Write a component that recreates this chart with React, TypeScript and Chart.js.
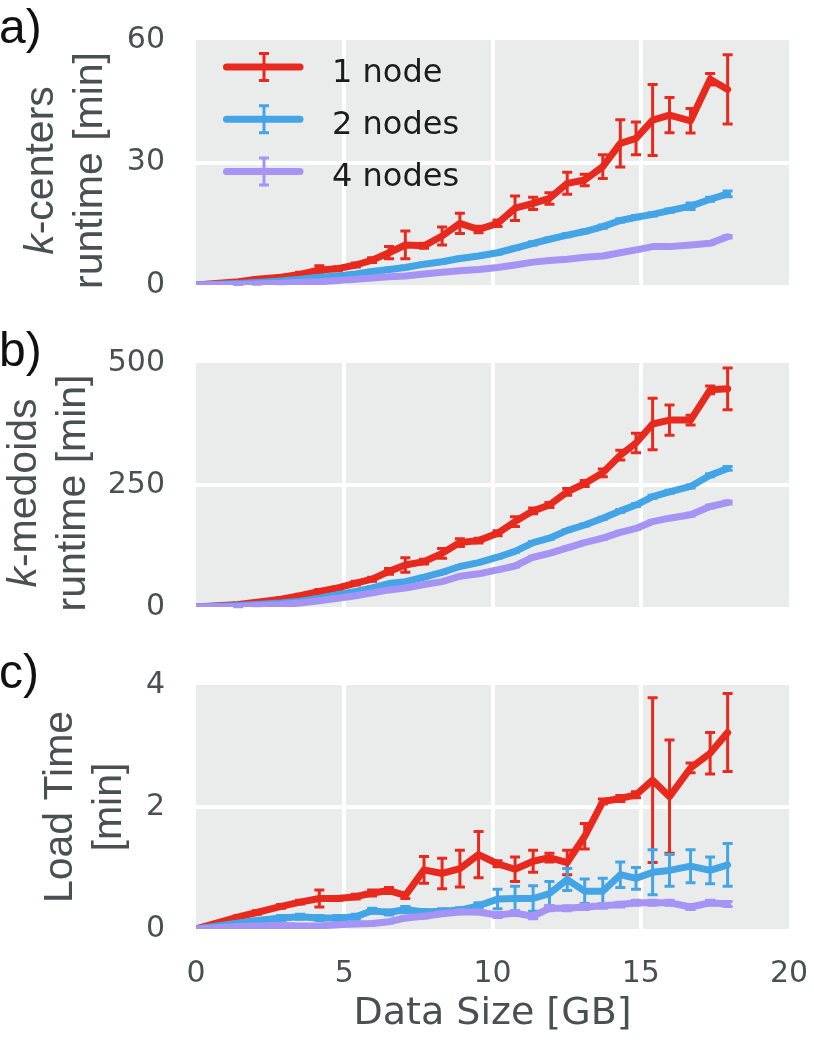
import React, { useEffect, useRef } from 'react';
import { Chart, registerables } from 'chart.js';

Chart.register(...registerables);

const W = 814;
const H = 1048;
const PLOT_LEFT = 196;
const PLOT_RIGHT = 789;

// ---------- data ----------
const dataSizeGB = [0, 1.43, 2.05, 2.87, 3.51, 4.16, 4.78, 5.39, 5.94, 6.51, 7.06, 7.69, 8.3, 8.9, 9.53, 10.17, 10.76, 11.37, 11.92, 12.52, 13.11, 13.72, 14.31, 14.84, 15.4, 15.97, 16.68, 17.34, 17.93];
const seriesLabels = ['1 node', '2 nodes', '4 nodes'];
const seriesColors = ['#e8291e', '#43a4e6', '#a594f4'];
const xTicks = [0, 5, 10, 15, 20];

// a) k-centers runtime [min]
const kCentersTicks = [0, 30, 60];
const kCenters1 = [0, 0.8, 1.4, 1.9, 2.6, 3.7, 4.0, 4.9, 6.1, 7.9, 9.8, 9.6, 12.0, 15.1, 13.6, 15.1, 18.8, 20.0, 21.2, 24.9, 25.7, 29.0, 34.7, 35.9, 40.4, 41.6, 40.2, 50.4, 47.9];
const kCenters1Err = [0, 0.2, 0.3, 0.3, 0.5, 1.0, 0.5, 0.5, 0.6, 1.5, 3.4, 0.6, 2.2, 2.5, 0.8, 0.8, 3.0, 1.5, 1.4, 2.7, 1.4, 2.9, 5.8, 4.0, 8.7, 4.3, 3.0, 1.4, 8.5];
const kCenters2 = [0, 0.35, 0.6, 1.0, 1.4, 1.9, 2.2, 2.7, 3.3, 3.8, 4.3, 5.1, 5.7, 6.5, 7.1, 7.9, 9.0, 10.2, 11.2, 12.2, 13.1, 14.3, 15.8, 16.6, 17.3, 18.2, 19.3, 21.0, 22.3];
const kCenters2Err = [0, 0.1, 0.1, 0.2, 0.2, 0.3, 0.3, 0.3, 0.3, 0.3, 0.3, 0.3, 0.3, 0.3, 0.3, 0.3, 0.3, 0.4, 0.3, 0.4, 0.3, 0.4, 0.4, 0.4, 0.4, 0.4, 0.8, 0.5, 0.7];
const kCenters4 = [0, 0.15, 0.25, 0.4, 0.65, 0.8, 1.1, 1.4, 1.7, 2.0, 2.2, 2.7, 3.1, 3.5, 3.8, 4.3, 4.9, 5.6, 6.0, 6.3, 6.8, 7.1, 7.9, 8.6, 9.4, 9.4, 9.8, 10.2, 11.8];
const kCenters4Err = [0, 0.05, 0.05, 0.1, 0.1, 0.1, 0.1, 0.1, 0.1, 0.2, 0.1, 0.2, 0.2, 0.2, 0.2, 0.2, 0.2, 0.2, 0.2, 0.2, 0.2, 0.2, 0.2, 0.3, 0.2, 0.3, 0.3, 0.3, 0.3];

// b) k-medoids runtime [min]
const kMedoidsTicks = [0, 250, 500];
const kMedoids1 = [0, 5, 10, 16, 23, 32, 39, 49, 57, 73, 86, 93, 110, 132, 136, 151, 175, 197, 209, 236, 253, 275, 311, 336, 375, 383, 383, 445, 447];
const kMedoids1Err = [0, 2, 2, 3, 3, 4, 3, 4, 4, 6, 15, 5, 10, 8, 5, 5, 10, 6, 5, 7, 6, 8, 10, 20, 53, 31, 10, 8, 43];
const kMedoids2 = [0, 3, 5, 8, 12, 18, 25, 32, 39, 48, 52, 61, 71, 83, 91, 102, 114, 132, 141, 157, 168, 182, 197, 209, 226, 236, 247, 270, 284];
const kMedoids2Err = [0, 0.5, 0.5, 1, 1, 2, 2, 2, 2, 2, 2, 2, 2, 2, 2, 2, 2, 2, 2, 2, 2, 2, 3, 3, 3, 3, 3, 3, 4];
const kMedoids4 = [0, 1, 3, 5, 8, 13, 18, 23, 29, 35, 39, 46, 52, 63, 68, 76, 84, 102, 110, 121, 132, 141, 153, 161, 175, 182, 189, 206, 214];
const kMedoids4Err = [0, 0.5, 0.5, 1, 1, 1, 1, 1, 2, 2, 2, 2, 2, 2, 2, 2, 2, 2, 2, 2, 2, 2, 2, 2, 2, 2, 3, 3, 3];

// c) Load Time [min]
const loadTicks = [0, 2, 4];
const load1 = [0, 0.2, 0.27, 0.37, 0.44, 0.5, 0.5, 0.53, 0.59, 0.63, 0.55, 0.97, 0.91, 0.99, 1.22, 1.07, 0.98, 1.11, 1.17, 1.09, 1.52, 2.09, 2.14, 2.2, 2.44, 2.17, 2.64, 2.88, 3.22];
const load1Err = [0, 0.02, 0.03, 0.03, 0.03, 0.14, 0.03, 0.04, 0.05, 0.05, 0.05, 0.22, 0.25, 0.3, 0.38, 0.05, 0.2, 0.18, 0.07, 0.2, 0.21, 0.04, 0.05, 0.05, 1.35, 0.93, 0.08, 0.34, 0.64];
const load2 = [0, 0.1, 0.14, 0.18, 0.2, 0.18, 0.18, 0.2, 0.3, 0.27, 0.32, 0.28, 0.29, 0.31, 0.38, 0.49, 0.5, 0.5, 0.58, 0.81, 0.62, 0.62, 0.89, 0.83, 0.93, 0.96, 1.03, 0.96, 1.05];
const load2Err = [0, 0.01, 0.02, 0.04, 0.04, 0.04, 0.04, 0.04, 0.04, 0.04, 0.05, 0.04, 0.04, 0.04, 0.05, 0.16, 0.2, 0.21, 0.2, 0.18, 0.2, 0.21, 0.21, 0.18, 0.37, 0.26, 0.27, 0.22, 0.35];
const load4 = [0, 0.04, 0.05, 0.06, 0.05, 0.05, 0.07, 0.08, 0.09, 0.12, 0.18, 0.21, 0.25, 0.28, 0.28, 0.23, 0.26, 0.21, 0.34, 0.34, 0.36, 0.38, 0.4, 0.43, 0.43, 0.43, 0.36, 0.43, 0.41];
const load4Err = [0, 0.01, 0.01, 0.02, 0.02, 0.02, 0.02, 0.02, 0.02, 0.02, 0.03, 0.03, 0.03, 0.03, 0.03, 0.04, 0.04, 0.04, 0.04, 0.04, 0.04, 0.04, 0.04, 0.04, 0.04, 0.04, 0.04, 0.04, 0.04];

// ---------- style ----------
const BG = '#eaecec';
const TICK_COLOR = '#4a4f50';
const TICK_FONT = { family: "'DejaVu Sans', sans-serif", size: 30 };
const YTITLE_SIZE = 41;
const YTITLE_FAMILY = "'Liberation Sans', Arial, sans-serif";
const LINE_W = 7;

type Seg = { text: string; italic?: boolean };

interface Panel {
  letter: string;
  letterY: number;
  top: number;
  bottom: number;
  yMax: number;
  yTicks: number[];
  titleLines: Seg[][];
  titleX: number[];
  titleShift: number;
  series: number[][];
  errors: number[][];
  legend: boolean;
  xAxis: boolean;
}

const panels: Panel[] = [
  {
    letter: 'a)', letterY: 43, top: 40, bottom: 285, yMax: 60, yTicks: kCentersTicks,
    titleLines: [[{ text: 'k', italic: true }, { text: '-centers' }], [{ text: 'runtime [min]' }]],
    titleX: [53, 102], titleShift: 8,
    series: [kCenters1, kCenters2, kCenters4],
    errors: [kCenters1Err, kCenters2Err, kCenters4Err],
    legend: true, xAxis: false,
  },
  {
    letter: 'b)', letterY: 366, top: 363, bottom: 607, yMax: 500, yTicks: kMedoidsTicks,
    titleLines: [[{ text: 'k', italic: true }, { text: '-medoids' }], [{ text: 'runtime [min]' }]],
    titleX: [36, 85], titleShift: 8,
    series: [kMedoids1, kMedoids2, kMedoids4],
    errors: [kMedoids1Err, kMedoids2Err, kMedoids4Err],
    legend: false, xAxis: false,
  },
  {
    letter: 'c)', letterY: 688, top: 685, bottom: 929, yMax: 4, yTicks: loadTicks,
    titleLines: [[{ text: 'Load Time' }], [{ text: '[min]' }]],
    titleX: [72, 121], titleShift: 0,
    series: [load1, load2, load4],
    errors: [load1Err, load2Err, load4Err],
    legend: false, xAxis: true,
  },
];

const X_AXIS_H = 108;

function drawErrorBar(ctx: CanvasRenderingContext2D, x: number, yTop: number, yBot: number, color: string) {
  ctx.save();
  ctx.strokeStyle = color;
  ctx.lineCap = 'butt';
  ctx.lineWidth = 3;
  ctx.beginPath();
  ctx.moveTo(x, yTop);
  ctx.lineTo(x, yBot);
  ctx.stroke();
  ctx.beginPath();
  ctx.moveTo(x - 5, yTop);
  ctx.lineTo(x + 5, yTop);
  ctx.moveTo(x - 5, yBot);
  ctx.lineTo(x + 5, yBot);
  ctx.stroke();
  ctx.restore();
}

function drawRotated(ctx: CanvasRenderingContext2D, segs: Seg[], baseX: number, centerY: number) {
  ctx.save();
  ctx.translate(baseX, centerY);
  ctx.rotate(-Math.PI / 2);
  ctx.fillStyle = TICK_COLOR;
  ctx.textBaseline = 'alphabetic';
  ctx.textAlign = 'left';
  const fontOf = (s: Seg) => `${s.italic ? 'italic ' : ''}${YTITLE_SIZE}px ${YTITLE_FAMILY}`;
  const widths = segs.map((s) => {
    ctx.font = fontOf(s);
    return ctx.measureText(s.text).width;
  });
  const total = widths.reduce((a, b) => a + b, 0);
  let x = -total / 2;
  segs.forEach((s, k) => {
    ctx.font = fontOf(s);
    ctx.fillText(s.text, x, 0);
    x += widths[k];
  });
  ctx.restore();
}

function makeChart(canvas: HTMLCanvasElement, p: Panel): Chart {
  const datasets = p.series.map((vals, i) => ({
    label: seriesLabels[i],
    data: dataSizeGB.map((x, j) => ({ x, y: vals[j] })),
    errors: p.errors[i],
    borderColor: seriesColors[i],
    backgroundColor: seriesColors[i],
    borderWidth: LINE_W,
    pointRadius: 0,
    pointHoverRadius: 0,
    borderJoinStyle: 'round',
    borderCapStyle: 'round',
    tension: 0,
    fill: false,
    order: 3 - i,
  }));

  const gridColor = (min: number, max: number) => (c: any) =>
    c.tick && (c.tick.value === min || c.tick.value === max) ? 'rgba(0,0,0,0)' : '#ffffff';

  const bgPlugin = {
    id: 'bg',
    beforeDraw(chart: any) {
      const { ctx, chartArea } = chart;
      ctx.save();
      ctx.fillStyle = BG;
      ctx.fillRect(chartArea.left, chartArea.top, chartArea.right - chartArea.left, chartArea.bottom - chartArea.top);
      ctx.restore();
    },
  };

  const errPlugin = {
    id: 'errbars',
    afterDatasetDraw(chart: any, args: any) {
      const ds = chart.data.datasets[args.index];
      const errs: number[] = ds.errors;
      const y = chart.scales.y;
      const ctx = chart.ctx;
      args.meta.data.forEach((pt: any, j: number) => {
        const e = errs[j];
        if (!e) return;
        const v = ds.data[j].y;
        drawErrorBar(ctx, pt.x, y.getPixelForValue(v + e), y.getPixelForValue(v - e), ds.borderColor);
      });
    },
  };

  const decorPlugin = {
    id: 'decor',
    afterDraw(chart: any) {
      const ctx: CanvasRenderingContext2D = chart.ctx;
      const { chartArea } = chart;
      ctx.save();
      ctx.fillStyle = '#111111';
      ctx.font = `48px ${YTITLE_FAMILY}`;
      ctx.textBaseline = 'alphabetic';
      ctx.textAlign = 'left';
      ctx.fillText(p.letter, -1, p.letterY);
      ctx.restore();
      const cy = (chartArea.top + chartArea.bottom) / 2 + p.titleShift;
      p.titleLines.forEach((segs, k) => drawRotated(ctx, segs, p.titleX[k], cy));
      if (p.legend) {
        chart.data.datasets.forEach((ds: any, i: number) => {
          const ly = 67 + i * 52.2;
          ctx.save();
          ctx.strokeStyle = ds.borderColor;
          ctx.lineWidth = LINE_W;
          ctx.lineCap = 'round';
          ctx.beginPath();
          ctx.moveTo(226.5, ly);
          ctx.lineTo(300, ly);
          ctx.stroke();
          ctx.restore();
          drawErrorBar(ctx, 264, ly - 13.5, ly + 13.5, ds.borderColor);
          ctx.save();
          ctx.fillStyle = '#1c1c1c';
          ctx.font = "32px 'DejaVu Sans', sans-serif";
          ctx.textBaseline = 'alphabetic';
          ctx.textAlign = 'left';
          ctx.fillText(ds.label, 332, ly + 15);
          ctx.restore();
        });
      }
    },
  };

  const xScale: any = {
    type: 'linear',
    min: 0,
    max: 20,
    afterBuildTicks: (s: any) => {
      s.ticks = xTicks.map((v) => ({ value: v }));
    },
    grid: { drawTicks: false, lineWidth: 4, color: gridColor(0, 20) },
    border: { display: false },
  };
  if (p.xAxis) {
    xScale.ticks = { font: TICK_FONT, color: TICK_COLOR, padding: 27, maxRotation: 0, autoSkip: false };
    xScale.title = {
      display: true,
      text: 'Data Size [GB]',
      font: { family: "'DejaVu Sans', sans-serif", size: 38 },
      color: TICK_COLOR,
      padding: { top: 0, bottom: 0 },
    };
    xScale.afterFit = (s: any) => {
      s.height = X_AXIS_H;
      s.paddingLeft = 0;
      s.paddingRight = 0;
    };
  } else {
    xScale.ticks = { display: false };
    xScale.afterFit = (s: any) => {
      s.height = 0;
      s.paddingLeft = 0;
      s.paddingRight = 0;
    };
  }

  return new Chart(canvas, {
    type: 'line',
    data: { datasets: datasets as any },
    options: {
      animation: false,
      responsive: false,
      devicePixelRatio: 1,
      events: [],
      layout: {
        padding: {
          left: 0,
          right: W - PLOT_RIGHT,
          top: p.top,
          bottom: H - p.bottom - (p.xAxis ? X_AXIS_H : 0),
        },
      },
      plugins: { legend: { display: false }, tooltip: { enabled: false }, title: { display: false } },
      scales: {
        x: xScale,
        y: {
          type: 'linear',
          min: 0,
          max: p.yMax,
          afterBuildTicks: (s: any) => {
            s.ticks = p.yTicks.map((v) => ({ value: v }));
          },
          afterFit: (s: any) => {
            s.width = PLOT_LEFT;
            s.paddingTop = 0;
            s.paddingBottom = 0;
          },
          ticks: { font: TICK_FONT, color: TICK_COLOR, padding: 31 },
          grid: { drawTicks: false, lineWidth: 4, color: gridColor(0, p.yMax) },
          border: { display: false },
        },
      },
    } as any,
    plugins: [bgPlugin, errPlugin, decorPlugin],
  });
}

function PanelCanvas({ panel }: { panel: Panel }) {
  const ref = useRef<HTMLCanvasElement | null>(null);
  useEffect(() => {
    if (!ref.current) return;
    const chart = makeChart(ref.current, panel);
    return () => chart.destroy();
  }, [panel]);
  return (
    <canvas
      ref={ref}
      width={W}
      height={H}
      style={{ position: 'absolute', left: 0, top: 0, width: W, height: H }}
    />
  );
}

export default function App() {
  return (
    <div style={{ position: 'absolute', left: 0, top: 0, width: W, height: H, background: '#ffffff', overflow: 'hidden' }}>
      {panels.map((p) => (
        <PanelCanvas key={p.letter} panel={p} />
      ))}
    </div>
  );
}
